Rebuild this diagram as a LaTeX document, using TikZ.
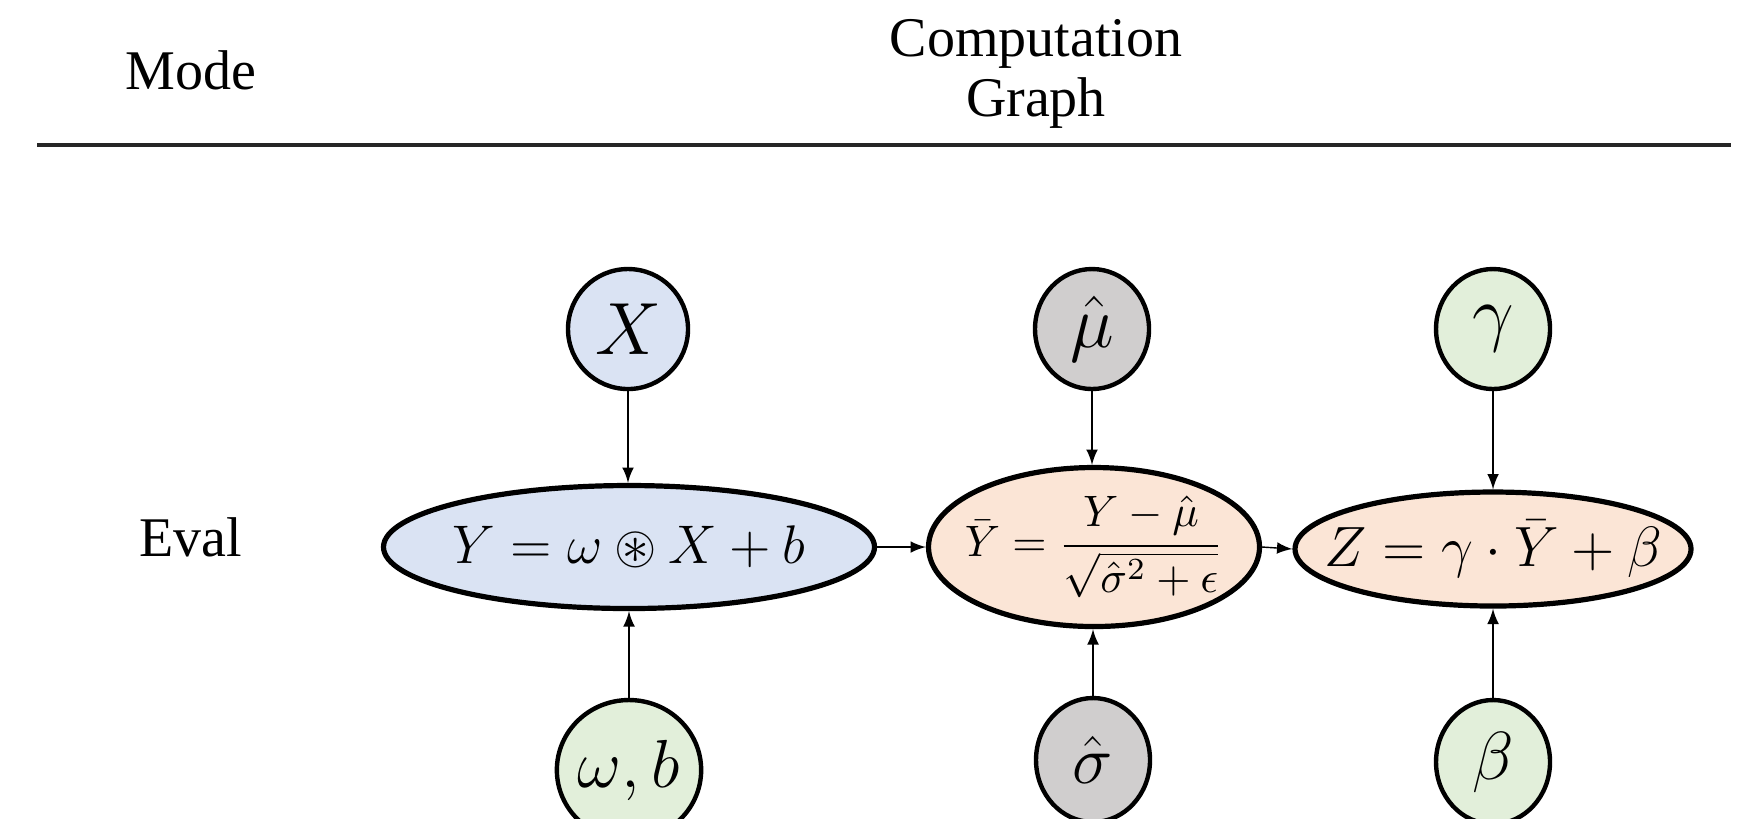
\RequirePackage{fix-cm}
\documentclass[tikz,border=0pt]{standalone}
\usepackage{amsmath,amssymb}
\usepackage{fontspec}
\setmainfont{Liberation Serif}
\usepackage{xcolor}
\usepackage{tikz}
\usetikzlibrary{shapes.geometric, arrows, positioning}
\definecolor{convblue}{RGB}{218,227,243}
\definecolor{normpeach}{RGB}{251,229,214}
\definecolor{paramgreen}{RGB}{226,239,218}
\definecolor{statgray}{RGB}{208,206,206}

\begin{document}
\begin{tikzpicture}[
    x=0.25pt, y=-0.25pt,
    head/.style={align=center, font=\fontsize{14}{15}\selectfont},
    opnode/.style={draw=black, ellipse, line width=1.3pt, inner sep=0pt},
    varnode/.style={draw=black, ellipse, line width=1.1pt, inner sep=0pt, minimum width=28.5pt, minimum height=30pt, font=\fontsize{18.5}{18.5}\selectfont},
    lownode/.style={varnode, font=\fontsize{17}{17}\selectfont},
    arrow/.style={->, >=latex, line width=0.35pt, draw=black},
    rule/.style={line width=0.8pt, draw=black!85}
]
    \useasboundingbox (0,0) rectangle (1762,818);

    % Header
    \node (mode) [head] at (191,70) {Mode};
    \node (graph) [head] at (1036,74) {Computation\\Graph};
    \coordinate (ruleL) at (37,145);
    \coordinate (ruleR) at (1731,145);
    \draw [rule] (ruleL) -- (ruleR);
    \node (eval) [head] at (191,537) {Eval};

    % Nodes
    \node (conv) [opnode, fill=convblue, minimum width=122.75pt, minimum height=30.75pt,
        label={[font=\fontsize{13.6}{13.6}\selectfont]center:$Y=\omega\circledast X+b$}] at (629,547) {};
    \node (norm) [opnode, fill=normpeach, minimum width=82.75pt, minimum height=39.75pt,
        label={[font=\fontsize{11}{11}\selectfont]center:$\displaystyle\bar{Y}=\frac{Y-\hat{\mu}}{\sqrt{\hat{\sigma}^2+\epsilon}}$}] at (1094,547) {};
    \node (affine) [opnode, fill=normpeach, minimum width=99pt, minimum height=28.5pt,
        label={[font=\fontsize{14.2}{14.2}\selectfont]center:$Z=\gamma\cdot\bar{Y}+\beta$}] at (1493,549) {};

    \node (X) [varnode, fill=convblue, minimum width=30pt] at (628,329) {$X$};
    \node (mu) [varnode, fill=statgray] at (1092,329) {$\hat{\mu}$};
    \node (gamma) [varnode, fill=paramgreen] at (1493,329) {$\gamma$};

    \node (wb) [lownode, fill=paramgreen, minimum width=34.5pt, minimum height=35pt] at (629,770) {$\omega,b$};
    \node (sigma) [lownode, fill=statgray, minimum height=31pt] at (1093,760) {$\hat{\sigma}$};
    \node (beta) [lownode, fill=paramgreen, minimum height=31pt] at (1493,762) {$\beta$};

    % Arrows
    \draw [arrow] (X) -- (X |- conv.north);
    \draw [arrow] (wb) -- (wb |- conv.south);
    \draw [arrow] (conv) -- (norm);
    \draw [arrow] (mu) -- (mu |- norm.north);
    \draw [arrow] (sigma) -- (sigma |- norm.south);
    \draw [arrow] (norm.east) -- (affine.west);
    \draw [arrow] (gamma) -- (affine);
    \draw [arrow] (beta) -- (affine);
\end{tikzpicture}
\end{document}
